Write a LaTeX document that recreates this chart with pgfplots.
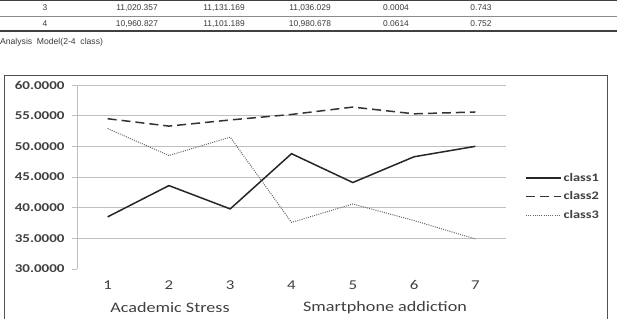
\documentclass[border=0pt]{standalone}
\usepackage{fontspec}
\usepackage{pgfplots}
\pgfplotsset{compat=1.18}
\newfontfamily\chartfont[FakeStretch=1.25]{Carlito}
\newfontfamily\tabfont{Liberation Sans}
\definecolor{txt}{HTML}{404040}
\definecolor{tabtxt}{HTML}{3A3A3A}
\definecolor{gridc}{HTML}{BFBFBF}
\definecolor{framec}{HTML}{505050}
\begin{document}
\begin{tikzpicture}[x=1bp,y=1bp]
\useasboundingbox (0,0) rectangle (617,318);
% table fragment
\draw[line width=1.2bp,black!75] (0,317.6) -- (617,317.6);
\draw[line width=0.7bp,black!45] (0,302) -- (617,302);
\draw[line width=1.6bp,black!75] (0,287) -- (617,287);
\begin{scope}[every node/.style={font=\tabfont\fontsize{8.4bp}{9bp}\selectfont,text=tabtxt,inner sep=0}]
\node at (45,310) {3};
\node at (137,310) {11,020.357};
\node at (224,310) {11,131.169};
\node at (310,310) {11,036.029};
\node at (396,310) {0.0004};
\node at (481,310) {0.743};
\node at (45,294) {4};
\node at (137,294) {10,960.827};
\node at (224,294) {11,101.189};
\node at (310,294) {10,980.678};
\node at (396,294) {0.0614};
\node at (481,294) {0.752};
\node[anchor=west, font=\tabfont\fontsize{8.6bp}{9bp}\selectfont] at (0,276) {Analysis\ \ Model(2-4\ \ class)};
\end{scope}
% chart frame
\draw[line width=1bp,framec] (4,-5) rectangle (607,243);
\begin{axis}[
  at={(77bp,49bp)}, anchor=south west,
  scale only axis, width=429bp, height=184bp,
  xmin=0.5, xmax=7.5, ymin=30, ymax=60,
  axis x line*=bottom, axis y line*=left,
  x axis line style={draw=none},
  y axis line style={draw=gridc, line width=0.8bp, -},
  xtick={1,...,7}, xtick style={draw=none},
  ytick={35,40,...,60},
  extra y ticks={30}, extra y tick style={grid=none},
  ymajorgrids, grid style={gridc, line width=0.8bp},
  tick align=outside, major tick length=5bp,
  ytick style={draw=gridc, line width=0.8bp},
  /pgf/number format/assume math mode=true,
  /pgf/number format/fixed,
  /pgf/number format/fixed zerofill,
  /pgf/number format/precision=4,
  /pgf/number format/1000 sep={},
  yticklabel style={font=\chartfont\bfseries\fontsize{12bp}{14bp}\selectfont, text=txt, xshift=-4bp},
  xticklabel style={font=\chartfont\fontsize{13.5bp}{15bp}\selectfont, text=txt, yshift=-3bp},
  xticklabels={1,2,3,4,5,6,7},
  legend style={at={(1.045,0.394)}, anchor=west, draw=none, fill=none, inner sep=0pt,
    font=\chartfont\bfseries\fontsize{11.5bp}{13bp}\selectfont, text=txt,
    row sep=5bp},
  legend cell align=left,
  legend image code/.code={\draw[#1, line width=1.1bp] (0bp,0bp) -- (35bp,0bp);},
  clip=false,
]
\addplot[line width=1.5bp, color=black!85] coordinates {(1,38.5) (2,43.6) (3,39.8) (4,48.8) (5,44.1) (6,48.3) (7,50.0)};
\addlegendentry{class1}
\addplot[line width=1.5bp, color=black!80, dash pattern=on 9bp off 5bp] coordinates {(1,54.5) (2,53.3) (3,54.3) (4,55.2) (5,56.4) (6,55.3) (7,55.6)};
\addlegendentry{class2}
\addplot[line width=1bp, color=black!60, dash pattern=on 1bp off 1.2bp] coordinates {(1,52.9) (2,48.5) (3,51.5) (4,37.6) (5,40.6) (6,37.9) (7,34.9)};
\addlegendentry{class3}
\end{axis}
\node[font=\chartfont\fontsize{14.5bp}{16bp}\selectfont, text=txt] at (170,10) {Academic Stress};
\node[font=\chartfont\fontsize{14.5bp}{16bp}\selectfont, text=txt] at (385,10) {Smartphone addiction};
\end{tikzpicture}
\end{document}
